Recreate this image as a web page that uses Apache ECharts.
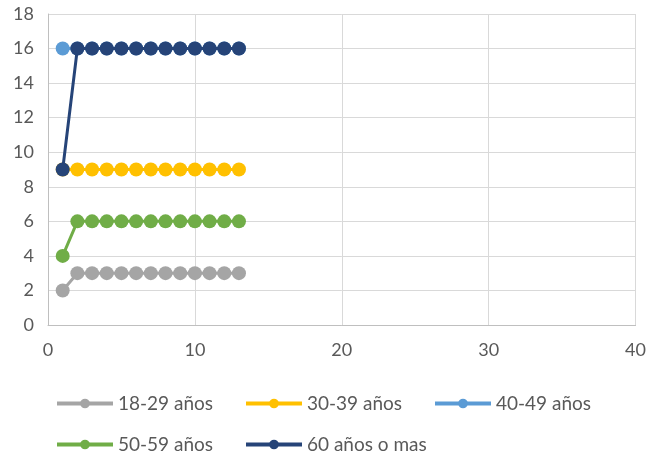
<!DOCTYPE html>
<html><head><meta charset="utf-8">
<script src="https://cdn.jsdelivr.net/npm/echarts@6/dist/echarts.min.js"></script>
<style>html,body{margin:0;padding:0;background:#fff}#c{width:649px;height:459px}</style>
</head><body><div id="c"></div>
<script>
var xValues = [1,2,3,4,5,6,7,8,9,10,11,12,13];
var seriesNames = ['18-29 años','30-39 años','40-49 años','50-59 años','60 años o mas'];
var s1829 = [2,3,3,3,3,3,3,3,3,3,3,3,3];
var s3039 = [9,9,9,9,9,9,9,9,9,9,9,9,9];
var s4049 = [16,16,16,16,16,16,16,16,16,16,16,16,16];
var s5059 = [4,6,6,6,6,6,6,6,6,6,6,6,6];
var s60 = [9,16,16,16,16,16,16,16,16,16,16,16,16];
var colors = ['#A5A5A5','#FFC000','#5B9BD5','#70AD47','#264478'];
var allValues = [s1829,s3039,s4049,s5059,s60];

var font = 'Lato, "Open Sans", sans-serif';
var chart = echarts.init(document.getElementById('c'));
var series = seriesNames.map(function(n,i){
  return {
    name:n, type:'line', symbol:'circle', symbolSize:14,
    data: xValues.map(function(x,j){return [x, allValues[i][j]];}),
    lineStyle:{width:3,color:colors[i]},
    itemStyle:{color:colors[i]},
    emphasis:{disabled:true}, animation:false, z:2+i
  };
});
var legendPos = [[55,394],[244,394],[433,394],[55,435],[244,435]];
var legends = seriesNames.map(function(n,i){
  return {data:[n], left:legendPos[i][0], top:legendPos[i][1], itemWidth:56, itemHeight:12,
    lineStyle:{width:4}, itemGap:0, padding:0,
    textStyle:{fontSize:19,color:'#595959',fontFamily:font}};
});
chart.setOption({
  animation:false,
  color:colors,
  grid:{left:48,right:10,top:14,bottom:134,containLabel:false},
  legend:legends,
  xAxis:{type:'value',min:0,max:40,interval:10,
    axisLine:{show:true,lineStyle:{color:'#BFBFBF',width:1}},
    axisTick:{show:false},
    axisLabel:{fontSize:18,color:'#595959',fontFamily:font,margin:16},
    splitLine:{show:true,lineStyle:{color:'#D9D9D9',width:1}}},
  yAxis:{type:'value',min:0,max:18,interval:2,
    axisLine:{show:true,lineStyle:{color:'#BFBFBF',width:1}},
    axisTick:{show:false},
    axisLabel:{fontSize:18,color:'#595959',fontFamily:font,margin:14},
    splitLine:{show:true,lineStyle:{color:'#D9D9D9',width:1}}},
  series:series
});
</script></body></html>
